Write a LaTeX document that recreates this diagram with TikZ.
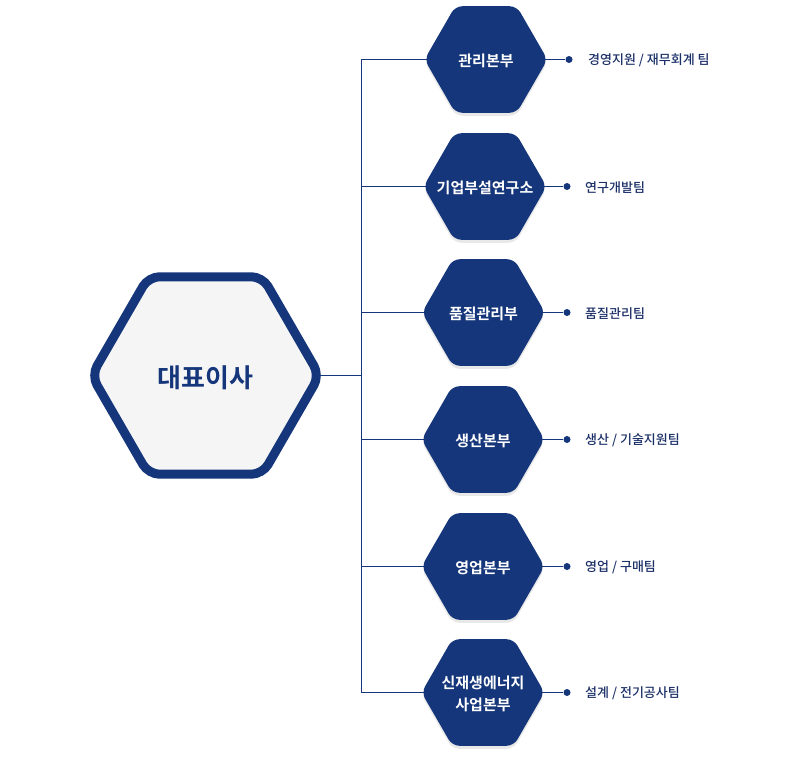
\documentclass[tikz,border=0pt]{standalone}
\usepackage{fontspec}
\setmainfont{Noto Sans CJK KR}[BoldFont={Noto Sans CJK KR Bold}]
\newfontfamily\krmed{Noto Sans CJK KR Medium}
\usetikzlibrary{shapes.geometric,shadows,backgrounds}
\definecolor{navy}{RGB}{21,54,122}
\definecolor{ink}{RGB}{28,48,104}
\definecolor{paper}{RGB}{245,245,246}
\newcommand\hexlabel[2][3pt]{\raisebox{-#1}[\height][\depth]{\makebox[0pt]{\begin{tabular}{@{}c@{}}#2\end{tabular}}}}
\tikzset{
  hexa/.style={regular polygon,regular polygon sides=6,rounded corners=7pt,minimum size=123pt,inner sep=0pt,
    fill=navy,text=white,font=\bfseries\fontsize{15}{22}\selectfont,
    drop shadow={opacity=0.18,shadow xshift=0pt,shadow yshift=-3pt}},
  chief/.style={regular polygon,regular polygon sides=6,rounded corners=11pt,minimum size=228pt,inner sep=0pt,
    draw=navy,line width=9pt,fill=paper,text=navy,font=\bfseries\fontsize{26}{30}\selectfont,
    drop shadow={opacity=0.18,shadow xshift=0pt,shadow yshift=-4pt}},
  wire/.style={draw=navy,line width=0.9pt},
  dot/.style={circle,fill=navy,inner sep=0pt,minimum size=7pt},
  team/.style={anchor=west,inner sep=0pt,text=ink,font=\krmed\fontsize{13}{15}\selectfont}
}
\begin{document}
\begin{tikzpicture}[x=1pt,y=-1pt]
\useasboundingbox (0,0) rectangle (790,760);
\node[chief] (ceo) at (205.5,375.5) {\hexlabel[6pt]{대표이사}};
\coordinate (jn) at (361.5,375.5);
\node[hexa] (d1) at (486,59.5) {\hexlabel{관리본부}};
\node[hexa] (d2) at (485,186.5) {\hexlabel{기업부설연구소}};
\node[hexa] (d3) at (483.5,312.5) {\hexlabel{품질관리부}};
\node[hexa] (d4) at (483,439.5) {\hexlabel{생산본부}};
\node[hexa] (d5) at (483,566.5) {\hexlabel{영업본부}};
\node[hexa] (d6) at (483,692.5) {\hexlabel{신재생에너지\\사업본부}};
\node[dot] (t1) at (569,59.5) {};
\node[dot] (t2) at (567,186.5) {};
\node[dot] (t3) at (567,312.5) {};
\node[dot] (t4) at (567,439.5) {};
\node[dot] (t5) at (567,566.5) {};
\node[dot] (t6) at (567,692.5) {};
\node[team] (n1) at ([xshift=19pt,yshift=-1pt]t1.center) {경영지원 / 재무회계 팀};
\node[team] (n2) at ([xshift=18pt,yshift=-1pt]t2.center) {연구개발팀};
\node[team] (n3) at ([xshift=18pt,yshift=-1pt]t3.center) {품질관리팀};
\node[team] (n4) at ([xshift=18pt,yshift=-1pt]t4.center) {생산 / 기술지원팀};
\node[team] (n5) at ([xshift=18pt,yshift=-1pt]t5.center) {영업 / 구매팀};
\node[team] (n6) at ([xshift=18pt,yshift=-1pt]t6.center) {설계 / 전기공사팀};
\begin{scope}[on background layer]
\draw[wire] (ceo.center) -- (jn);
\draw[wire] (jn |- d1) -- (jn |- d6);
\draw[wire] (jn |- d1) -- (d1.center);
\draw[wire] (jn |- d2) -- (d2.center);
\draw[wire] (jn |- d3) -- (d3.center);
\draw[wire] (jn |- d4) -- (d4.center);
\draw[wire] (jn |- d5) -- (d5.center);
\draw[wire] (jn |- d6) -- (d6.center);
\draw[wire] (d1.center) -- (t1);
\draw[wire] (d2.center) -- (t2);
\draw[wire] (d3.center) -- (t3);
\draw[wire] (d4.center) -- (t4);
\draw[wire] (d5.center) -- (t5);
\draw[wire] (d6.center) -- (t6);
\end{scope}
\end{tikzpicture}
\end{document}
